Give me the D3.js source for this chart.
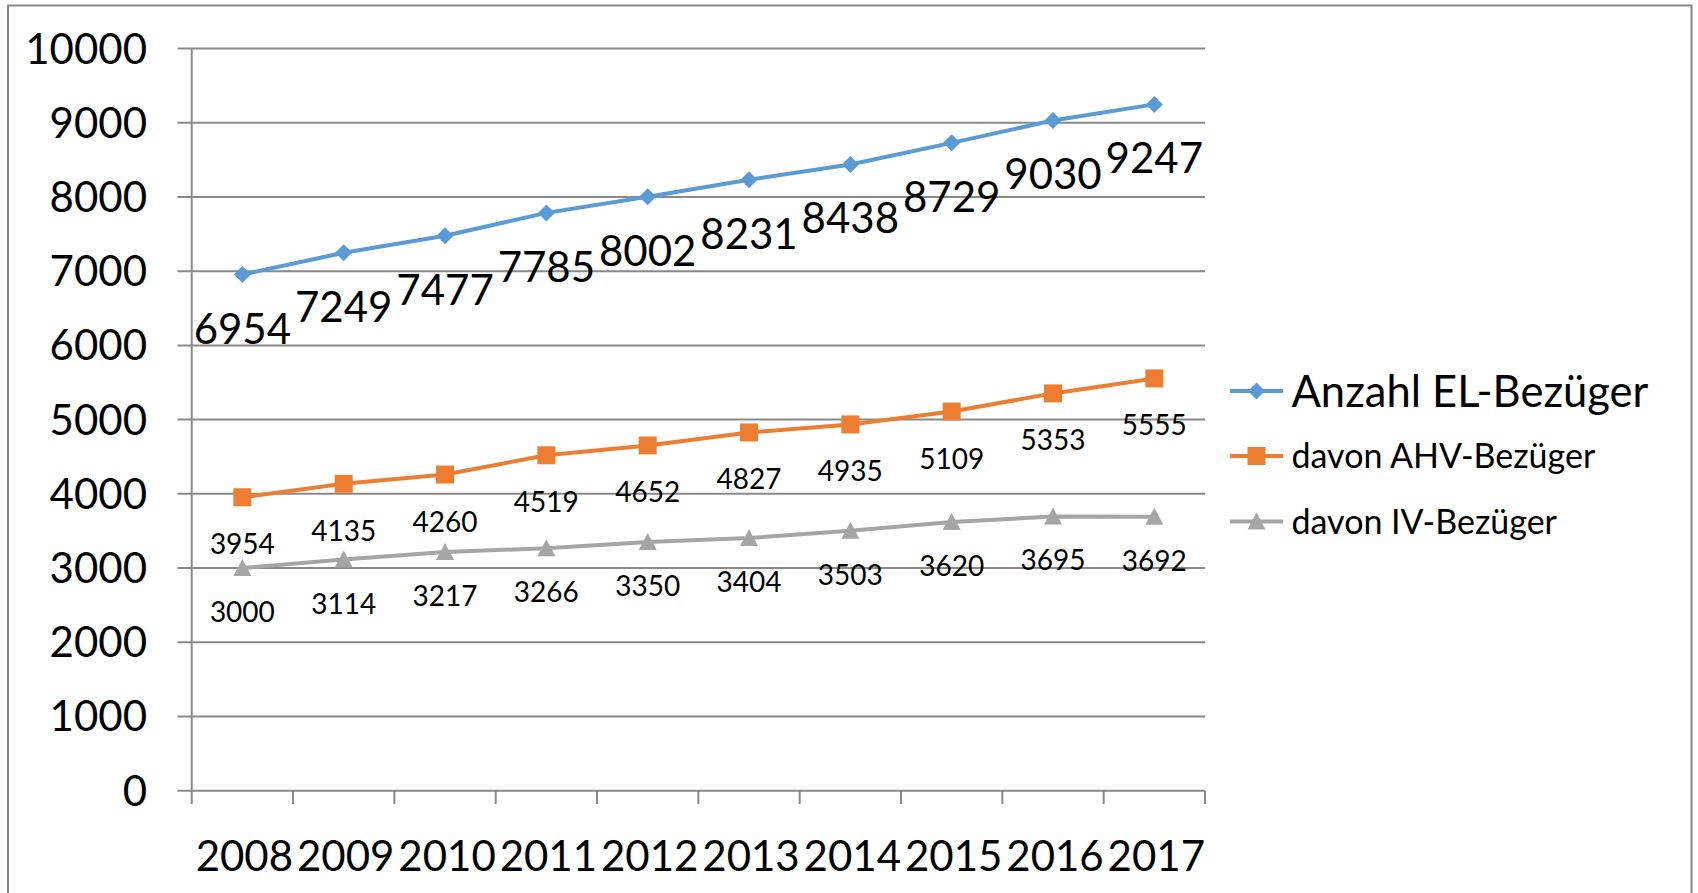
<!DOCTYPE html>
<html>
<head>
<meta charset="utf-8">
<script src="https://cdn.jsdelivr.net/npm/d3@7/dist/d3.min.js"></script>
<style>
  html, body { margin: 0; padding: 0; background: #fff; }
  svg { display: block; }
  text { font-family: Lato, "Open Sans", sans-serif; fill: #000; }
</style>
</head>
<body>
<svg id="chart" width="1698" height="893"></svg>
<script>
// Jahre und Anzahl Bezüger
const years = ["2008", "2009", "2010", "2011", "2012", "2013", "2014", "2015", "2016", "2017"];
const totalEL = [6954, 7249, 7477, 7785, 8002, 8231, 8438, 8729, 9030, 9247];
const ahv = [3954, 4135, 4260, 4519, 4652, 4827, 4935, 5109, 5353, 5555];
const iv = [3000, 3114, 3217, 3266, 3350, 3404, 3503, 3620, 3695, 3692];
const yTicks = [0, 1000, 2000, 3000, 4000, 5000, 6000, 7000, 8000, 9000, 10000];
const seriesNames = ["Anzahl EL-Bezüger", "davon AHV-Bezüger", "davon IV-Bezüger"];

const series = [
  { name: seriesNames[0], values: totalEL, color: "#5B9BD5", marker: "diamond",
    labelSize: 42, labelDrop: 69, legendSize: 43.5 },
  { name: seriesNames[1], values: ahv, color: "#ED7D31", marker: "square",
    labelSize: 28, labelDrop: 57, legendSize: 34 },
  { name: seriesNames[2], values: iv, color: "#A5A5A5", marker: "triangle",
    labelSize: 28, labelDrop: 54, legendSize: 34 }
];

const svg = d3.select("#chart");
const gridColor = "#898989";

svg.append("rect").attr("width", 1698).attr("height", 893).attr("fill", "#fff");
// chart frame (continues past the lower edge)
svg.append("rect")
  .attr("x", 8).attr("y", 5.5).attr("width", 1683.5).attr("height", 1000)
  .attr("fill", "none").attr("stroke", gridColor).attr("stroke-width", 2);

const x = d3.scaleBand().domain(years).range([191.7, 1205]).padding(0);
const y = d3.scaleLinear().domain([0, 10000]).range([790.7, 48.5]);

// horizontal gridlines with short outward ticks
svg.append("g").selectAll("line").data(yTicks).join("line")
  .attr("x1", 177.5).attr("x2", 1205)
  .attr("y1", d => y(d)).attr("y2", d => y(d))
  .attr("stroke", gridColor).attr("stroke-width", 2);

// vertical axis line
svg.append("line")
  .attr("x1", 191.7).attr("x2", 191.7).attr("y1", y(10000)).attr("y2", y(0))
  .attr("stroke", gridColor).attr("stroke-width", 2);

// category tick marks at band boundaries
const bounds = years.map(d => x(d)).concat([x(years[years.length - 1]) + x.bandwidth()]);
svg.append("g").selectAll("line").data(bounds).join("line")
  .attr("x1", d => d).attr("x2", d => d)
  .attr("y1", y(0)).attr("y2", 804)
  .attr("stroke", gridColor).attr("stroke-width", 2);

// y tick labels
svg.append("g").selectAll("text").data(yTicks).join("text")
  .attr("x", 147).attr("y", d => y(d) + 15)
  .attr("text-anchor", "end").attr("font-size", 42)
  .text(d => d);

// x tick labels
svg.append("g").selectAll("text").data(years).join("text")
  .attr("x", d => x(d) + x.bandwidth() / 2 + 2).attr("y", 871)
  .attr("text-anchor", "middle").attr("font-size", 42)
  .text(d => d);

const cx = i => x(years[i]) + x.bandwidth() / 2;

function markerPath(type) {
  if (type === "diamond") return "M0,-8.5L8.5,0L0,8.5L-8.5,0Z";
  if (type === "square") return "M-9,-9H9V9H-9Z";
  return "M0,-9L9,8L-9,8Z";
}

const line = d3.line().x((d, i) => cx(i)).y(d => y(d));

series.forEach(s => {
  const g = svg.append("g");
  g.append("path").datum(s.values)
    .attr("d", line).attr("fill", "none")
    .attr("stroke", s.color).attr("stroke-width", 4)
    .attr("stroke-linejoin", "round");
  g.selectAll("path.m").data(s.values).join("path").attr("class", "m")
    .attr("d", markerPath(s.marker))
    .attr("transform", (d, i) => `translate(${cx(i)},${y(d)})`)
    .attr("fill", s.color);
});

// value labels below each point
series.forEach(s => {
  svg.append("g").selectAll("text").data(s.values).join("text")
    .attr("x", (d, i) => cx(i)).attr("y", d => y(d) + s.labelDrop)
    .attr("text-anchor", "middle").attr("font-size", s.labelSize)
    .text(d => d);
});

// legend
const legendY = [391, 456, 521.5];
series.forEach((s, i) => {
  const g = svg.append("g").attr("transform", `translate(0,${legendY[i]})`);
  g.append("line").attr("x1", 1230).attr("x2", 1283).attr("y1", 0).attr("y2", 0)
    .attr("stroke", s.color).attr("stroke-width", 4);
  g.append("path").attr("d", markerPath(s.marker))
    .attr("transform", "translate(1256.5,0)").attr("fill", s.color);
  g.append("text").attr("x", 1291.5).attr("y", s.legendSize * 0.358)
    .attr("font-size", s.legendSize).text(s.name);
});
</script>
</body>
</html>
